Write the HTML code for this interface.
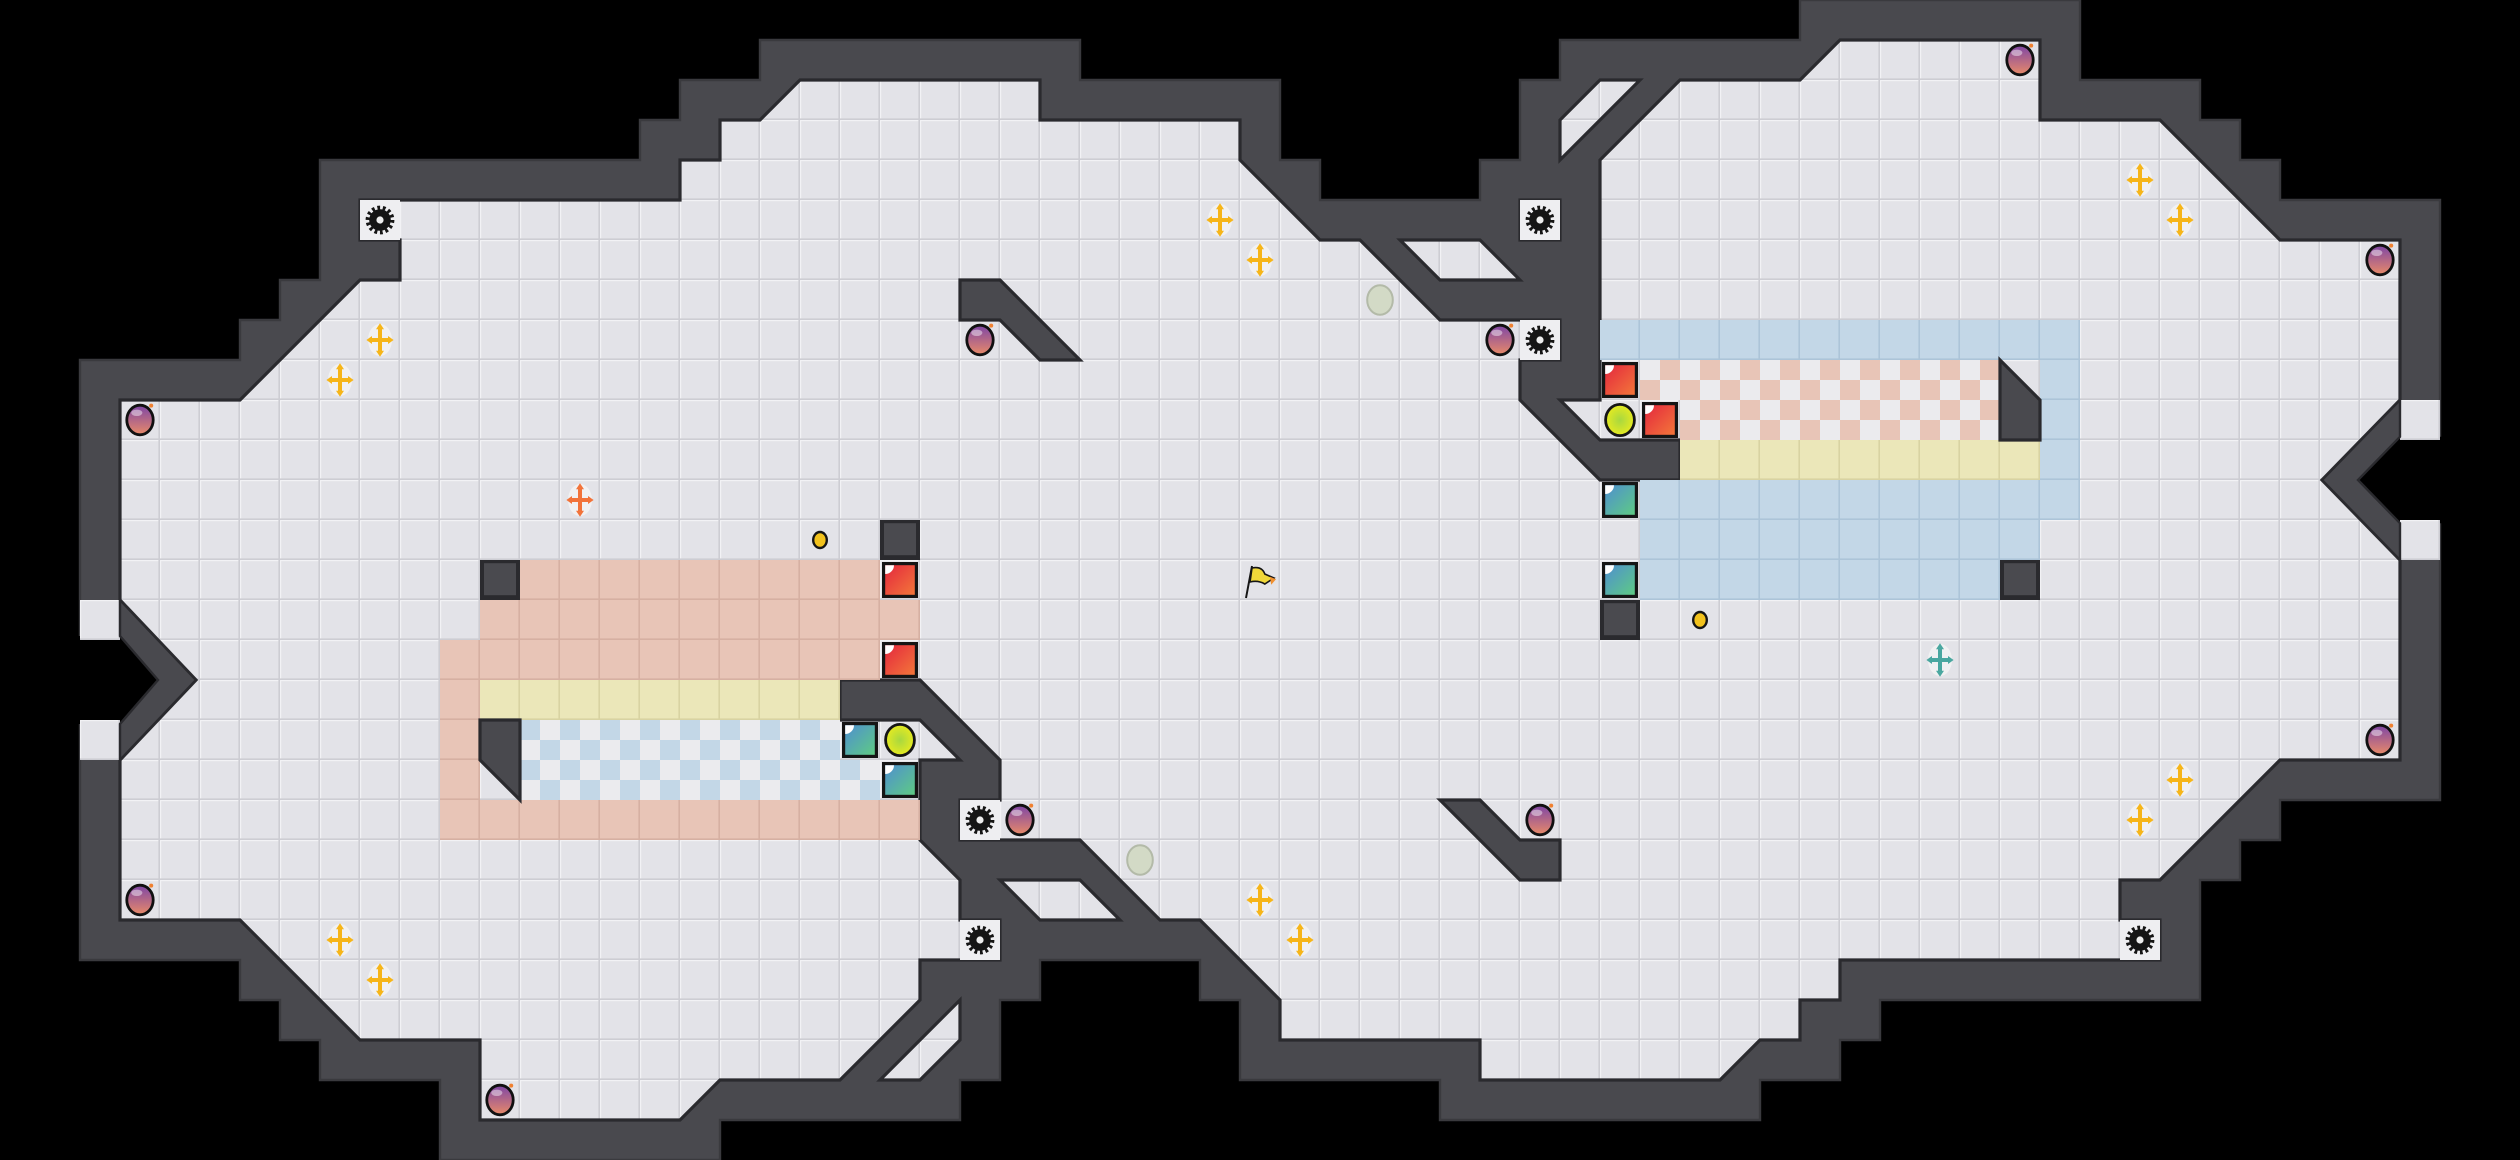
<!DOCTYPE html>
<html><head><meta charset="utf-8"><style>html,body{margin:0;padding:0;background:#000}svg{display:block}</style></head>
<body>
<svg xmlns="http://www.w3.org/2000/svg" xmlns:xlink="http://www.w3.org/1999/xlink" width="2520" height="1160" viewBox="0 0 2520 1160">
<defs>
<pattern id="pf" patternUnits="userSpaceOnUse" width="1" height="1"><rect width="1" height="1" fill="#e3e3e8"/><rect x="0" y="0" width="1" height=".03" fill="#f2f2f5"/><rect x="0" y="0" width=".03" height="1" fill="#f2f2f5"/><rect x=".96" y="0" width=".04" height="1" fill="#cdcdd3"/><rect x="0" y=".96" width="1" height=".04" fill="#cdcdd3"/></pattern>
<pattern id="pp" patternUnits="userSpaceOnUse" width="1" height="1"><rect width="1" height="1" fill="#e8c5b7"/><rect x=".96" y="0" width=".04" height="1" fill="#d6b0a2"/><rect x="0" y=".96" width="1" height=".04" fill="#d6b0a2"/></pattern>
<pattern id="py" patternUnits="userSpaceOnUse" width="1" height="1"><rect width="1" height="1" fill="#ebe7b9"/><rect x=".96" y="0" width=".04" height="1" fill="#d8d3a2"/><rect x="0" y=".96" width="1" height=".04" fill="#d8d3a2"/></pattern>
<pattern id="pb" patternUnits="userSpaceOnUse" width="1" height="1"><rect width="1" height="1" fill="#c3d7e7"/><rect x=".96" y="0" width=".04" height="1" fill="#acc4d8"/><rect x="0" y=".96" width="1" height=".04" fill="#acc4d8"/></pattern>
<pattern id="cb" patternUnits="userSpaceOnUse" width="1" height="1"><rect width="1" height="1" fill="#ebebee"/><rect width=".5" height=".5" fill="#c3d7e7"/><rect x=".5" y=".5" width=".5" height=".5" fill="#c3d7e7"/></pattern>
<pattern id="cp" patternUnits="userSpaceOnUse" width="1" height="1"><rect width="1" height="1" fill="#ebebee"/><rect x=".5" width=".5" height=".5" fill="#e8c5b7"/><rect y=".5" width=".5" height=".5" fill="#e8c5b7"/></pattern>
<linearGradient id="gb" x1="0" y1="0" x2="0" y2="1"><stop offset="0" stop-color="#7e46a6"/><stop offset="1" stop-color="#e98a68"/></linearGradient>
<linearGradient id="gr" x1="0" y1="0" x2="1" y2="1"><stop offset="0" stop-color="#e4283e"/><stop offset="1" stop-color="#f3763a"/></linearGradient>
<linearGradient id="gt" x1="0" y1="0" x2="1" y2="1"><stop offset="0" stop-color="#4f8fd0"/><stop offset="1" stop-color="#5ecb84"/></linearGradient>
<radialGradient id="gy"><stop offset="0" stop-color="#a8d840"/><stop offset="1" stop-color="#e6ea20"/></radialGradient>
<g id="bomb"><ellipse rx=".33" ry=".37" fill="url(#gb)" stroke="#111" stroke-width=".07"/><ellipse cx="-.08" cy="-.18" rx=".14" ry=".08" fill="#fff" opacity=".45"/><circle cx=".28" cy="-.36" r=".05" fill="#f08030"/></g>
<g id="saw"><rect x="-.5" y="-.5" width="1" height="1" fill="#eeeef1"/><circle r=".27" fill="#151515"/><circle r=".3" fill="none" stroke="#151515" stroke-width=".12" stroke-dasharray=".067 .067"/><circle r=".09" fill="#eee"/></g>
<g id="mv"><ellipse rx=".3" ry=".4" fill="#f6f6f6" opacity=".75"/><path d="M-.24 0H.24M0 -.3V.3" stroke="currentColor" stroke-width=".1"/><path d="M0 -.42L-.1 -.27H.1Z M0 .42L-.1 .27H.1Z M-.34 0L-.2 -.1V.1Z M.34 0L.2 -.1V.1Z" fill="currentColor"/></g>
<g id="rb"><rect x=".05" y=".05" width=".9" height=".9" fill="#151515"/><rect x=".13" y=".13" width=".74" height=".74" fill="url(#gr)"/><path d="M.13 .13h.22a.22 .22 0 0 1 -.22 .22z" fill="#fff"/></g>
<g id="tb"><rect x=".05" y=".05" width=".9" height=".9" fill="#151515"/><rect x=".13" y=".13" width=".74" height=".74" fill="url(#gt)"/><path d="M.13 .13h.22a.22 .22 0 0 1 -.22 .22z" fill="#fff"/></g>
<g id="yc"><ellipse rx=".36" ry=".39" fill="url(#gy)" stroke="#151515" stroke-width=".07"/></g>
<g id="gc"><ellipse rx=".32" ry=".37" fill="#d3dac6" stroke="#b3baa8" stroke-width=".05"/></g>
<g id="coin"><ellipse rx=".17" ry=".2" fill="#f2c21c" stroke="#151515" stroke-width=".06"/></g>
<g id="blk"><rect x="0" y="0" width="1" height="1" fill="#2a2a2e"/><rect x=".1" y=".08" width=".8" height=".8" fill="#4a4a4f"/></g>
</defs>
<rect width="2520" height="1160" fill="#000"/>
<g transform="scale(40)">
<!-- outer walls -->
<polygon fill="#49494e" stroke="#3a3a3e" stroke-width=".06" points="2,9 6,9 6,8 7,8 7,7 8,7 8,4 16,4 16,3 17,3 17,2 19,2 19,1 27,1 27,2 32,2 32,4 33,4 33,5 37,5 37,4 38,4 38,2 39,2 39,1 45,1 45,0 52,0 52,2 55,2 55,3 56,3 56,4 57,4 57,5 61,5 61,20 57,20 57,21 56,21 56,22 55,22 55,25 47,25 47,26 46,26 46,27 44,27 44,28 36,28 36,27 31,27 31,25 30,25 30,24 26,24 26,25 25,25 25,27 24,27 24,28 18,28 18,29 11,29 11,27 8,27 8,26 7,26 7,25 6,25 6,24 2,24"/>
<!-- main floor -->
<polygon fill="url(#pf)" stroke="#2a2a2e" stroke-width=".08" stroke-linejoin="miter" points="3,10 6,10 9,7 10,7 10,6 9,6 9,5 17,5 17,4 18,4 18,3 19,3 20,2 26,2 26,3 31,3 31,4 33,6 34,6 36,8 39,8 39,9 38,9 38,10 40,12 42,12 42,11 40,11 39,10 40,10 40,4 42,2 45,2 46,1 51,1 51,3 54,3 57,6 60,6 60,10 58.05,12 60,14 60,19 57,19 54,22 53,22 53,23 54,23 54,24 46,24 46,25 45,25 45,26 44,26 43,27 37,27 37,26 32,26 32,25 30,23 29,23 27,21 24,21 24,20 25,20 25,19 23,17 21,17 21,18 23,18 24,19 23,19 23,21 24,22 24,23 25,23 25,24 23,24 23,25 21,27 18,27 17,28 12,28 12,26 9,26 6,23 3,23 3,19 4.9,17 3,15"/>
<!-- pockets -->
<g fill="url(#pf)" stroke="#2a2a2e" stroke-width=".08">
<polygon points="35,6 37,6 38,7 36,7"/>
<polygon points="40,2 41,2 39,4 39,3"/>
<polygon points="25,22 27,22 28,23 26,23"/>
<polygon points="22,27 23,27 24,26 24,25"/>
<rect x="38" y="5" width="1" height="1"/>
</g>
<!-- side notches -->
<polygon fill="#000" points="3.95,17 3,15.9 0,15.9 0,18.1 3,18.1"/>
<rect x="2" y="15" width="1" height="1" fill="url(#pf)"/>
<rect x="2" y="18" width="1" height="1" fill="url(#pf)"/>
<polygon fill="#49494e" stroke="#2a2a2e" stroke-width=".06" points="3,15 4.9,17 3,19 3,18.1 3.95,17 3,15.9"/>
<polygon fill="#000" points="58.95,12 60,10.92 63,10.92 63,13.08 60,13.08"/>
<rect x="60" y="10" width="1" height="1" fill="url(#pf)"/>
<rect x="60" y="13" width="1" height="1" fill="url(#pf)"/>
<polygon fill="#49494e" stroke="#2a2a2e" stroke-width=".06" points="60,10 58.05,12 60,14 60,13.08 58.95,12 60,10.92"/>
<!-- zones left -->
<rect x="13" y="14" width="9" height="1" fill="url(#pp)"/>
<rect x="12" y="15" width="11" height="1" fill="url(#pp)"/>
<rect x="11" y="16" width="11" height="1" fill="url(#pp)"/>
<rect x="11" y="17" width="1" height="3" fill="url(#pp)"/>
<rect x="11" y="20" width="12" height="1" fill="url(#pp)"/>
<rect x="12" y="17" width="9" height="1" fill="url(#py)"/>
<rect x="13" y="18" width="8" height="1" fill="url(#cb)"/>
<rect x="13" y="19" width="9" height="1" fill="url(#cb)"/>
<!-- zones right -->
<rect x="40" y="8" width="12" height="1" fill="url(#pb)"/>
<rect x="41" y="9" width="9" height="1" fill="url(#cp)"/>
<rect x="42" y="10" width="8" height="1" fill="url(#cp)"/>
<rect x="51" y="9" width="1" height="3" fill="url(#pb)"/>
<rect x="42" y="11" width="9" height="1" fill="url(#py)"/>
<rect x="41" y="12" width="11" height="1" fill="url(#pb)"/>
<rect x="41" y="13" width="10" height="1" fill="url(#pb)"/>
<rect x="41" y="14" width="9" height="1" fill="url(#pb)"/>
<!-- inner walls -->
<g fill="#49494e" stroke="#2a2a2e" stroke-width=".08">
<polygon points="12,18 13,18 13,20 12,19"/>
<polygon points="24,7 25,7 27,9 26,9 25,8 24,8"/>
<polygon points="36,20 37,20 38,21 39,21 39,22 38,22"/>
<polygon points="50,9 51,10 51,11 50,11"/>
</g>
<use href="#blk" x="12" y="14"/><use href="#blk" x="22" y="13"/><use href="#blk" x="40" y="15"/><use href="#blk" x="50" y="14"/>
<!-- blocks -->
<use href="#rb" x="22" y="14"/><use href="#rb" x="22" y="16"/><use href="#rb" x="40" y="9"/><use href="#rb" x="41" y="10"/>
<use href="#tb" x="21" y="18"/><use href="#tb" x="22" y="19"/><use href="#tb" x="40" y="12"/><use href="#tb" x="40" y="14"/>
<use href="#yc" x="22.5" y="18.5"/><use href="#yc" x="40.5" y="10.5"/>
<!-- saws -->
<use href="#saw" x="9.5" y="5.5"/><use href="#saw" x="24.5" y="20.5"/><use href="#saw" x="24.5" y="23.5"/><use href="#saw" x="38.5" y="5.5"/><use href="#saw" x="38.5" y="8.5"/><use href="#saw" x="53.5" y="23.5"/>
<!-- bombs -->
<use href="#bomb" x="3.5" y="10.5"/><use href="#bomb" x="3.5" y="22.5"/><use href="#bomb" x="12.5" y="27.5"/><use href="#bomb" x="24.5" y="8.5"/><use href="#bomb" x="25.5" y="20.5"/><use href="#bomb" x="37.5" y="8.5"/><use href="#bomb" x="38.5" y="20.5"/><use href="#bomb" x="50.5" y="1.5"/><use href="#bomb" x="59.5" y="6.5"/><use href="#bomb" x="59.5" y="18.5"/>
<!-- move icons -->
<g color="#f6b519">
<use href="#mv" x="9.5" y="8.5"/><use href="#mv" x="8.5" y="9.5"/><use href="#mv" x="8.5" y="23.5"/><use href="#mv" x="9.5" y="24.5"/><use href="#mv" x="30.5" y="5.5"/><use href="#mv" x="31.5" y="6.5"/><use href="#mv" x="31.5" y="22.5"/><use href="#mv" x="32.5" y="23.5"/><use href="#mv" x="53.5" y="4.5"/><use href="#mv" x="54.5" y="5.5"/><use href="#mv" x="54.5" y="19.5"/><use href="#mv" x="53.5" y="20.5"/>
</g>
<use href="#mv" x="14.5" y="12.5" color="#f2733a"/>
<use href="#mv" x="48.5" y="16.5" color="#4aa7a0"/>
<!-- misc -->
<use href="#gc" x="34.5" y="7.5"/><use href="#gc" x="28.5" y="21.5"/>
<use href="#coin" x="20.5" y="13.5"/><use href="#coin" x="42.5" y="15.5"/>
<g>
<line x1="31.15" y1="14.95" x2="31.3" y2="14.15" stroke="#151515" stroke-width=".05"/>
<path d="M31.3 14.2 Q31.55 14.15 31.62 14.35 L31.85 14.45 L31.62 14.6 Q31.45 14.5 31.25 14.55 Z" fill="#f0d83a" stroke="#151515" stroke-width=".04"/>
<path d="M31.75 14.42 L31.9 14.48 L31.78 14.62 Z" fill="#f09030"/>
</g>
</g>
</svg>
</body></html>
